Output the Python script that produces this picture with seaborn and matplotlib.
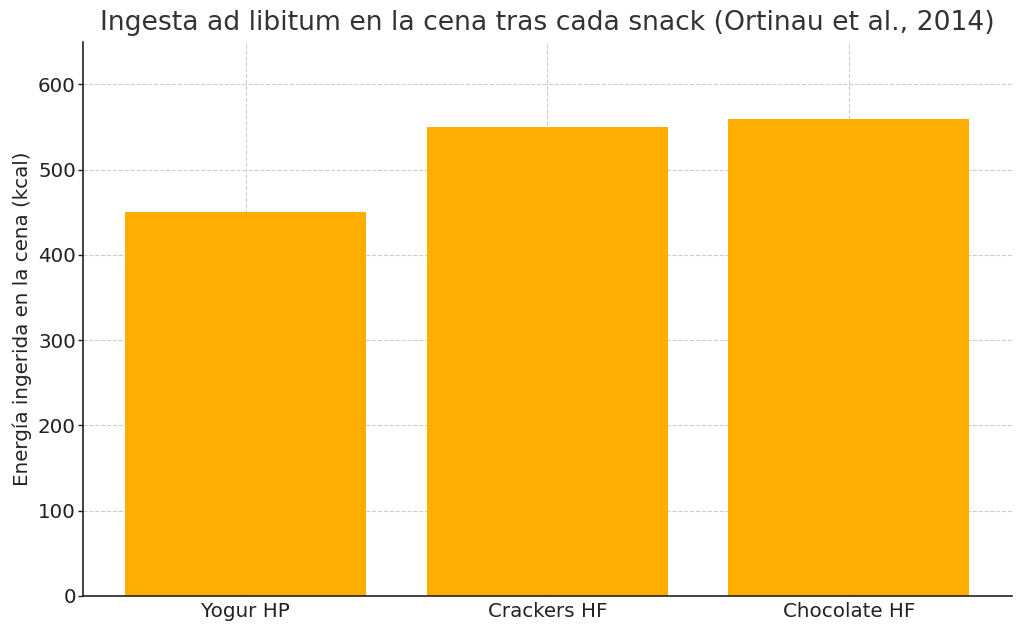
import matplotlib
matplotlib.use("Agg")
import matplotlib.pyplot as plt
import seaborn as sns
import pandas as pd

snacks = ["Yogur HP", "Crackers HF", "Chocolate HF"]
kcal = [450, 550, 560]

df = pd.DataFrame({"snack": snacks, "kcal": kcal})

sns.set_style("whitegrid")
plt.rcParams["font.family"] = ["DejaVu Sans"]

fig, ax = plt.subplots(figsize=(10.24, 6.34), dpi=100)
sns.barplot(data=df, x="snack", y="kcal", color="#ffae00", saturation=1,
            width=0.8, linewidth=0, ax=ax, zorder=2)

ax.set_xlim(-0.54, 2.54)
ax.set_ylim(0, 650)
ax.set_title("Ingesta ad libitum en la cena tras cada snack (Ortinau et al., 2014)",
             fontsize=19.2, color="#333333", pad=8.5)
ax.set_xlabel("")
ax.set_ylabel("Energía ingerida en la cena (kcal)", fontsize=14.3, color="#222222",
              labelpad=4.5)
ax.tick_params(axis="both", labelsize=14.3, colors="#222222")
ax.tick_params(axis="x", direction="in", length=4.3, width=1, bottom=True, pad=4)
ax.tick_params(axis="y", direction="out", length=3.5, width=1, left=True, pad=1.5)

ax.grid(True, linestyle="--", color="#cccccc", linewidth=0.8)
ax.set_axisbelow(True)
for s in ["top", "right"]:
    ax.spines[s].set_visible(False)
for s in ["left", "bottom"]:
    ax.spines[s].set_color("#222222")
    ax.spines[s].set_linewidth(1.2)

fig.subplots_adjust(left=0.081, right=0.988, top=0.934, bottom=0.06)
fig.savefig("out.png", dpi=100, facecolor="white")
